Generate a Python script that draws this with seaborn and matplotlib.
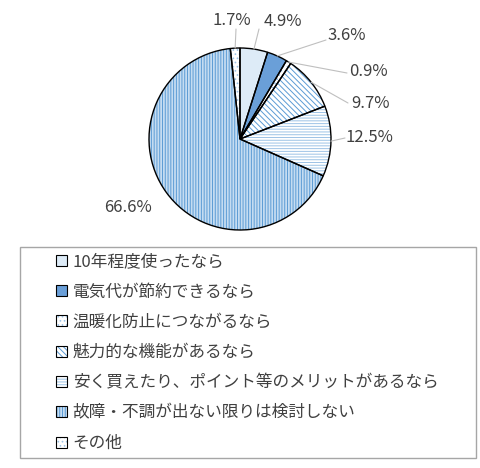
import numpy as np
import matplotlib
matplotlib.use("Agg")
import matplotlib.pyplot as plt
import seaborn as sns
from matplotlib.patches import Patch, Rectangle
from matplotlib.legend_handler import HandlerTuple

labels = ["10年程度使ったなら", "電気代が節約できるなら", "温暖化防止につながるなら",
          "魅力的な機能があるなら", "安く買えたり、ポイント等のメリットがあるなら",
          "故障・不調が出ない限りは検討しない", "その他"]
values = [4.9, 3.6, 0.9, 9.7, 12.5, 66.6, 1.7]
pct_text = ["4.9%", "3.6%", "0.9%", "9.7%", "12.5%", "66.6%", "1.7%"]

faces = ["#DDEBF7", "#6A9FD8", "#FFFFFF", "#FFFFFF", "#FFFFFF", "#C5DCF1", "#FFFFFF"]
hatch_cols = ["#DDEBF7", "#5B8FCB", "#9DC3E6", "#5B9BD5", "#9DC3E6", "#5B9BD5", "#9DC3E6"]
hatches = [None, None, "....", "\\\\\\\\\\\\", "------", "||||||", "...."]

sns.set_theme(style="white")
plt.rcParams["font.family"] = ["Noto Sans CJK JP", "DejaVu Sans"]
plt.rcParams["hatch.linewidth"] = 0.7

W, H = 481, 468
fig = plt.figure(figsize=(W / 100, H / 100), dpi=100)
cx, cy, R = 240, 139, 91
ax = fig.add_axes([(cx - R) / W, (H - cy - R) / H, 2 * R / W, 2 * R / H])

wedges, _ = ax.pie(values, startangle=90, counterclock=False, radius=1,
                   colors=faces, wedgeprops=dict(linewidth=0))
for w, hc, ht in zip(wedges, hatch_cols, hatches):
    w.set_edgecolor(hc)
    w.set_linewidth(0)
    if ht:
        w.set_hatch(ht)
outl, _ = ax.pie(values, startangle=90, counterclock=False, radius=1,
                 wedgeprops=dict(fill=False, edgecolor="black", linewidth=1.0))
ax.set_xlim(-1, 1)
ax.set_ylim(-1, 1)
ax.set_aspect("equal")
ax.axis("off")

# label positions (pixel centers)
lab_pos = [(283, 22), (347, 36), (368, 72), (370, 103), (369, 137), (128, 208), (232, 20)]
line_end = [(259, 29), (326, 40), (347, 73), (348, 103), (345, 138), None, (236, 29)]

def to_data(p):
    return ((p[0] - cx) / R, (cy - p[1]) / R)

for w, txt, lp, le in zip(wedges, pct_text, lab_pos, line_end):
    x, y = to_data(lp)
    ax.text(x, y, txt, ha="center", va="center", fontsize=12, color="#404040",
            clip_on=False)
    if le is not None:
        th = np.deg2rad((w.theta1 + w.theta2) / 2)
        ex, ey = to_data(le)
        ax.plot([np.cos(th), ex], [np.sin(th), ey], color="#BFBFBF", lw=0.8,
                clip_on=False)

# legend
handles = []
for f, hc, ht in zip(faces, hatch_cols, hatches):
    p1 = Patch(facecolor=f, edgecolor=hc, hatch=ht, linewidth=0)
    p2 = Patch(facecolor="none", edgecolor="black", linewidth=0.8)
    handles.append((p1, p2))
fig.legend(handles, labels, handler_map={tuple: HandlerTuple(ndivide=1, pad=0)},
           loc="upper left", bbox_to_anchor=(56 / W, 1 - 253 / H),
           frameon=False, fontsize=12, handlelength=0.65, handleheight=0.65,
           handletextpad=0.35, labelspacing=0.80, borderaxespad=0,
           borderpad=0, labelcolor="#404040")
fig.patches.append(Rectangle((20 / W, 1 - 458 / H), 456 / W, 211 / H,
                             transform=fig.transFigure, fill=False,
                             edgecolor="#A6A6A6", linewidth=1.0))

fig.savefig("out.png", dpi=100)
